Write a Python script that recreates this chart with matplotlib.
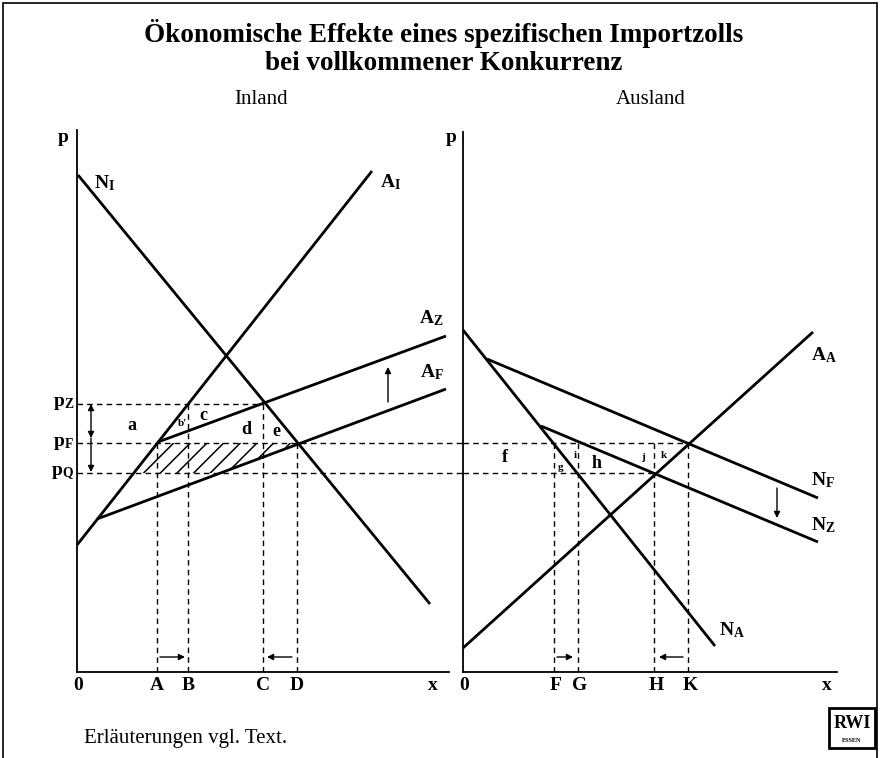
import matplotlib
matplotlib.use("Agg")
import numpy as np
import matplotlib.pyplot as plt
from matplotlib.patches import Polygon, Rectangle

# Einheiten: 1 Einheit = 1 Pixel, Ursprung im jeweiligen Achsenkreuz
# --- Inland ---
N_I = ([1, 353], [497, 68])        # Nachfrage Inland
A_I = ([0, 295], [127, 501])       # Angebot Inland
A_F = ([20, 369], [153, 283])      # Gesamtangebot bei Freihandel
A_Z = ([81, 369], [230, 336])      # Gesamtangebot mit Zoll
P_Z, P_F, P_Q = 268, 229, 199      # Preisniveaus
Q_IN = {"A": 80, "B": 111, "C": 186, "D": 220}

# --- Ausland ---
N_A = ([0, 252], [342, 26])
N_F = ([24, 355], [313, 174])
N_Z = ([78, 355], [246, 130])
A_A = ([0, 350], [24, 340])
Q_AUS = {"F": 91, "G": 115, "H": 191, "K": 225}

W, H = 881, 758
plt.rcParams["font.family"] = "Liberation Serif"
plt.rcParams["mathtext.fontset"] = "custom"
plt.rcParams["mathtext.rm"] = "Liberation Serif"
plt.rcParams["mathtext.bf"] = "Liberation Serif:bold"
plt.rcParams["mathtext.it"] = "Liberation Serif:italic"
plt.rcParams["hatch.linewidth"] = 1.1

DASH = dict(color="black", lw=1.0, ls=(0, (4, 3)))
CURVE = dict(color="black", lw=2.0, solid_capstyle="butt")


def px_box(x0, y0, x1, y1):
    return [x0 / W, 1 - y1 / H, (x1 - x0) / W, (y1 - y0) / H]


def arrow(ax, tail, tip, style="-|>"):
    ax.annotate("", xy=tip, xytext=tail,
                arrowprops=dict(arrowstyle=style, lw=1.0, color="black",
                                mutation_scale=9, shrinkA=0, shrinkB=0),
                annotation_clip=False)


def lbl(ax, x, y, s, size=12, **kw):
    ax.text(x, y, s, fontsize=size, fontweight="bold", ha="center", va="center", **kw)


fig = plt.figure(figsize=(W / 100, H / 100), dpi=100)
axL = fig.add_axes(px_box(77, 122, 460, 672))
axR = fig.add_axes(px_box(463, 122, 850, 672))
for ax, xmax, xtop, ytop in [(axL, 383, 372, 542), (axR, 387, 374, 540)]:
    ax.set_xlim(0, xmax)
    ax.set_ylim(0, 550)
    ax.spines[["top", "right"]].set_visible(False)
    ax.spines["left"].set_bounds(0, ytop)
    ax.spines["bottom"].set_bounds(0, xtop)
    for s in ("left", "bottom"):
        ax.spines[s].set_linewidth(1.3)
    ax.set_xticks([])
    ax.set_yticks([])
    ax.patch.set_alpha(0)

# ---------------- Inland ----------------
for xs, ys in (N_I, A_I, A_F, A_Z):
    axL.plot(xs, ys, **CURVE)

gap = 463 - 77  # Abstand der beiden Ursprünge
axL.plot([0, Q_IN["C"]], [P_Z, P_Z], **DASH)
axL.plot([0, gap], [P_F, P_F], clip_on=False, **DASH)
axL.plot([0, gap], [P_Q, P_Q], clip_on=False, **DASH)
for k, top in [("A", P_F), ("B", P_Z), ("C", P_Z), ("D", P_F)]:
    axL.plot([Q_IN[k], Q_IN[k]], [top, 0], **DASH)

# schraffierte Fläche (Zolleinnahmen)
x_ai_q = np.interp(P_Q, A_I[1], A_I[0])
x_af_q = np.interp(P_Q, A_F[1], A_F[0])
axL.add_patch(Polygon([(x_ai_q, P_Q), (Q_IN["A"], P_F), (Q_IN["D"], P_F), (x_af_q, P_Q)],
                      closed=True, fill=False, hatch="//", lw=0, edgecolor="black"))

lbl(axL, 28, 489, r"$\mathbf{N_I}$", 14)
lbl(axL, 314, 490, r"$\mathbf{A_I}$", 14)
lbl(axL, 354, 354, r"$\mathbf{A_Z}$", 14)
lbl(axL, 355, 300, r"$\mathbf{A_F}$", 14)
for s, x, y, fs in [("a", 55, 247, 13), ("b'", 106, 249, 8), ("c", 126, 257, 13),
                    ("d", 169, 243, 13), ("e", 199, 240, 13)]:
    lbl(axL, x, y, s, fs)
for s, y in [("Z", P_Z), ("F", P_F), ("Q", P_Q)]:
    axL.text(-3, y, r"$\mathbf{p_%s}$" % s, fontsize=14, ha="right", va="center")
lbl(axL, -14, 534, "p", 14)
arrow(axL, (14, 234), (14, 268), "<|-|>")
arrow(axL, (14, 234), (14, 200), "-|>")
arrow(axL, (311, 270), (311, 305))
arrow(axL, (83, 15), (108, 15))
arrow(axL, (215, 15), (190, 15))
lbl(axL, 1, -14, "0", 14)
for k, v in Q_IN.items():
    lbl(axL, v, -14, k, 14)
lbl(axL, 356, -14, "x", 14)

# ---------------- Ausland ----------------
for xs, ys in (N_A, N_F, N_Z, A_A):
    axR.plot(xs, ys, **CURVE)
axR.plot([0, Q_AUS["K"]], [P_F, P_F], **DASH)
axR.plot([0, Q_AUS["H"]], [P_Q, P_Q], **DASH)
for k in Q_AUS:
    axR.plot([Q_AUS[k], Q_AUS[k]], [P_F, 0], **DASH)

lbl(axR, 361, 317, r"$\mathbf{A_A}$", 14)
lbl(axR, 360, 192, r"$\mathbf{N_F}$", 14)
lbl(axR, 360, 147, r"$\mathbf{N_Z}$", 14)
lbl(axR, 269, 42, r"$\mathbf{N_A}$", 14)
for s, x, y, fs in [("f", 42, 214, 13), ("g", 98, 205, 8), ("i", 112, 217, 8),
                    ("h", 134, 209, 13), ("j", 180, 215, 8), ("k", 201, 217, 8)]:
    lbl(axR, x, y, s, fs)
lbl(axR, -12, 534, "p", 14)
arrow(axR, (314, 184), (314, 154))
arrow(axR, (94, 15), (110, 15))
arrow(axR, (220, 15), (196, 15))
lbl(axR, 1, -14, "0", 14)
for k, v in Q_AUS.items():
    lbl(axR, v + 2, -14, k, 14)
lbl(axR, 364, -14, "x", 14)

# ---------------- Texte und Rahmen ----------------
fig.text(444 / W, 1 - 42 / H, "Ökonomische Effekte eines spezifischen Importzolls",
         fontsize=19.5, fontweight="bold", ha="center", va="baseline")
fig.text(444 / W, 1 - 70 / H, "bei vollkommener Konkurrenz",
         fontsize=19.5, fontweight="bold", ha="center", va="baseline")
fig.text(261 / W, 1 - 99 / H, "Inland", fontsize=15, ha="center", va="center")
fig.text(651 / W, 1 - 99 / H, "Ausland", fontsize=15, ha="center", va="center")
fig.text(84 / W, 1 - 739 / H, "Erläuterungen vgl. Text.", fontsize=15,
         ha="left", va="center")

fig.add_artist(Rectangle((3 / W, -0.02), 874 / W, 1.02 - 3 / H, fill=False,
                         lw=1.2, edgecolor="black", transform=fig.transFigure))
# RWI-Logo
fig.add_artist(Rectangle((829 / W, 1 - 748 / H), 46 / W, 40 / H, fill=False,
                         lw=2.0, edgecolor="black", transform=fig.transFigure))
fig.text(852 / W, 1 - 723 / H, "RWI", fontsize=13, fontweight="bold",
         ha="center", va="center")
fig.text(852 / W, 1 - 741 / H, "ESSEN", fontsize=4.5, fontweight="bold",
         ha="center", va="center")

fig.savefig("out.png", dpi=100)
